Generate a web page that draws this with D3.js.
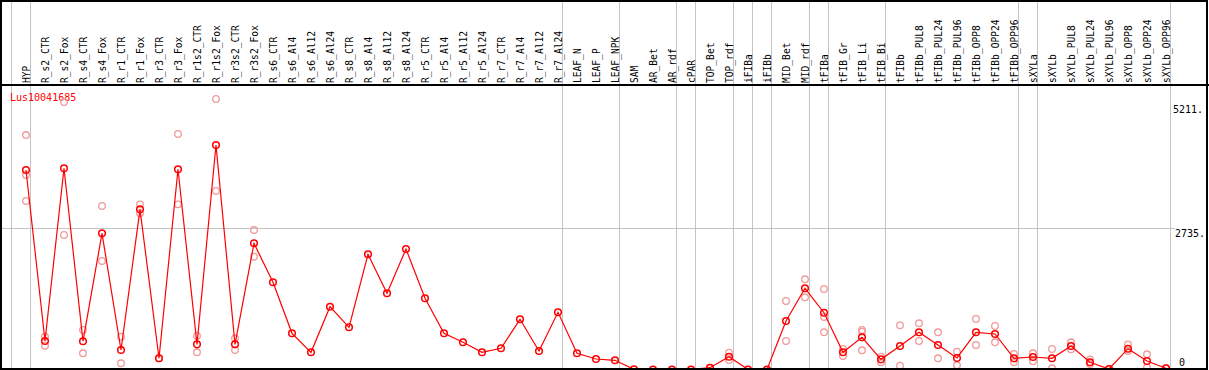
<html>
  <head>
    <meta charset="utf-8"/>
    <style>
      body {
        margin: 0;
        background: white;
      }
      text {
        font-family: "DejaVu Sans Mono", monospace;
      }
    </style>
    <script src="https://d3js.org/d3.v7.min.js"></script>
  </head>
  <body>
    <script>
    var width = 1209, height = 370;

    var gene = "Lus10041685";

    var samples = ["HYP", "R_s2_CTR", "R_s2_Fox", "R_s4_CTR", "R_s4_Fox", "R_r1_CTR", "R_r1_Fox",
      "R_r3_CTR", "R_r3_Fox", "R_r1s2_CTR", "R_r1s2_Fox", "R_r3s2_CTR", "R_r3s2_Fox",
      "R_s6_CTR", "R_s6_Al4", "R_s6_Al12", "R_s6_Al24", "R_s8_CTR", "R_s8_Al4", "R_s8_Al12", "R_s8_Al24",
      "R_r5_CTR", "R_r5_Al4", "R_r5_Al12", "R_r5_Al24", "R_r7_CTR", "R_r7_Al4", "R_r7_Al12", "R_r7_Al24",
      "LEAF_N", "LEAF_P", "LEAF_NPK", "SAM", "AR_Bet", "AR_rdf", "cPAR", "TOP_Bet", "TOP_rdf",
      "iFIBa", "iFIBb", "MID_Bet", "MID_rdf", "tFIBa", "tFIB_Gr", "tFIB_Li", "tFIB_Bi",
      "tFIBb", "tFIBb_PUL8", "tFIBb_PUL24", "tFIBb_PUL96", "tFIBb_OPP8", "tFIBb_OPP24", "tFIBb_OPP96",
      "sXYLa", "sXYLb", "sXYLb_PUL8", "sXYLb_PUL24", "sXYLb_PUL96", "sXYLb_OPP8", "sXYLb_OPP24", "sXYLb_OPP96"];

    // mean expression per sample
    var means = [3843, 549, 3876, 545, 2624, 376, 3086,
      216, 3857, 485, 4325, 485, 2431,
      1680, 697, 331, 1210, 813, 2219, 1468, 2321,
      1372, 697, 524, 331, 408, 967, 356, 1102,
      312, 202, 177, 4, 0, 0, 0, 35, 247,
      0, 0, 934, 1564, 1094, 331, 620, 196,
      453, 717, 472, 222, 717, 684, 216,
      241, 216, 453, 139, 10, 401, 164, 23];

    // replicate values per sample
    var replicates = [[4517, 3747, 3246], [632, 458], [5153, 2591], [761, 312], [3150, 2090], [632, 119], [3182, 3009],
      [216], [4537, 3182], [645, 331], [5211, 3439], [601, 376], [2687, 2173],
      [], [], [], [], [], [], [], [],
      [], [], [], [], [], [], [], [],
      [], [], [], [], [], [], [], [35], [324, 183],
      [], [], [1320, 549], [1738, 1391], [1551, 1011, 717], [395, 260], [761, 730, 370], [247, 139],
      [851, 73], [890, 549], [717, 216], [343, 81], [973, 472], [838, 524], [299, 139],
      [312, 158], [395, 23], [524, 389], [196, 106], [10], [485, 356], [293, 35], [23]];

    // first sample of each group (vertical separators)
    var groupStarts = ["HYP", "R_s2_CTR", "LEAF_N", "SAM", "cPAR", "TOP_Bet", "iFIBa", "iFIBb",
      "MID_Bet", "tFIBa", "tFIB_Gr", "tFIBb", "sXYLa", "sXYLb"];

    var maxVal = 5211;
    var axisTicks = [5211, 2735, 0];
    var tickText = ["5211.", "2735.", "0"];

    var headerY = 85, plotBottom = 369.5;

    var svg = d3.select("body").append("svg")
      .attr("width", width).attr("height", height);

    var x = d3.scaleBand().domain(samples).range([11, 11 + 19 * samples.length]);
    var px = d => x(d) + 15;
    var y = d3.scaleLinear().domain([0, maxVal * 1.05]).range([plotBottom, headerY + 0.5]);

    var grid = svg.append("g").attr("shape-rendering", "crispEdges")
      .attr("stroke", "#c4c4c4").attr("stroke-width", 1);

    grid.selectAll("line.v")
      .data(groupStarts.map(d => x(d)).concat([x.range()[1]]))
      .enter().append("line")
      .attr("x1", d => Math.round(d) + 0.5).attr("x2", d => Math.round(d) + 0.5)
      .attr("y1", 0).attr("y2", height);

    grid.append("line")
      .attr("x1", 1).attr("x2", 1175)
      .attr("y1", Math.round(y(maxVal * 1.05 / 2)) + 0.5).attr("y2", Math.round(y(maxVal * 1.05 / 2)) + 0.5);

    // header separator
    svg.append("line")
      .attr("shape-rendering", "crispEdges")
      .attr("x1", 0).attr("x2", width)
      .attr("y1", headerY).attr("y2", headerY)
      .attr("stroke", "black").attr("stroke-width", 2);

    // sample labels
    svg.append("g").selectAll("text")
      .data(samples)
      .enter().append("text")
      .attr("transform", d => "translate(" + (px(d) + 3.5) + "," + (headerY - 2) + ") rotate(-90)")
      .attr("font-size", "9.6px")
      .attr("fill", "black")
      .text(d => d);

    svg.append("text")
      .attr("x", 10).attr("y", 101)
      .attr("font-size", "10px")
      .attr("fill", "red")
      .text(gene);

    // right axis labels
    svg.append("clipPath").attr("id", "clip")
      .append("rect").attr("x", 0).attr("y", 0).attr("width", 1206).attr("height", height);

    var lblX = [1173, 1175, 1179];
    var lblDy = [14, 9, -4];
    svg.append("g").attr("clip-path", "url(#clip)")
      .selectAll("text")
      .data(axisTicks)
      .enter().append("text")
      .attr("x", (d, i) => lblX[i])
      .attr("y", (d, i) => (i == 1 ? y(maxVal * 1.05 / 2) : y(d)) + lblDy[i])
      .attr("font-size", "10px")
      .attr("fill", "black")
      .text((d, i) => tickText[i]);

    // replicate points
    var reps = [];
    replicates.forEach((r, i) => r.forEach(v => reps.push({s: samples[i], v: v})));

    svg.append("g").selectAll("circle")
      .data(reps)
      .enter().append("circle")
      .attr("cx", d => px(d.s))
      .attr("cy", d => y(d.v))
      .attr("r", 3.3)
      .attr("fill", "none")
      .attr("stroke", "#f09a9a")
      .attr("stroke-width", 1.3);

    var line = d3.line().x((d, i) => px(samples[i])).y(d => y(d));

    svg.append("path")
      .attr("d", line(means))
      .attr("fill", "none")
      .attr("stroke", "red")
      .attr("stroke-width", 1.2);

    svg.append("g").selectAll("circle")
      .data(means)
      .enter().append("circle")
      .attr("cx", (d, i) => px(samples[i]))
      .attr("cy", d => y(d))
      .attr("r", 3.3)
      .attr("fill", "none")
      .attr("stroke", "red")
      .attr("stroke-width", 1.5);

    // outer frame
    svg.append("rect")
      .attr("shape-rendering", "crispEdges")
      .attr("x", 1).attr("y", 0.5)
      .attr("width", 1206).attr("height", 368)
      .attr("fill", "none")
      .attr("stroke", "black")
      .attr("stroke-width", 2);
    </script>
  </body>
</html>
